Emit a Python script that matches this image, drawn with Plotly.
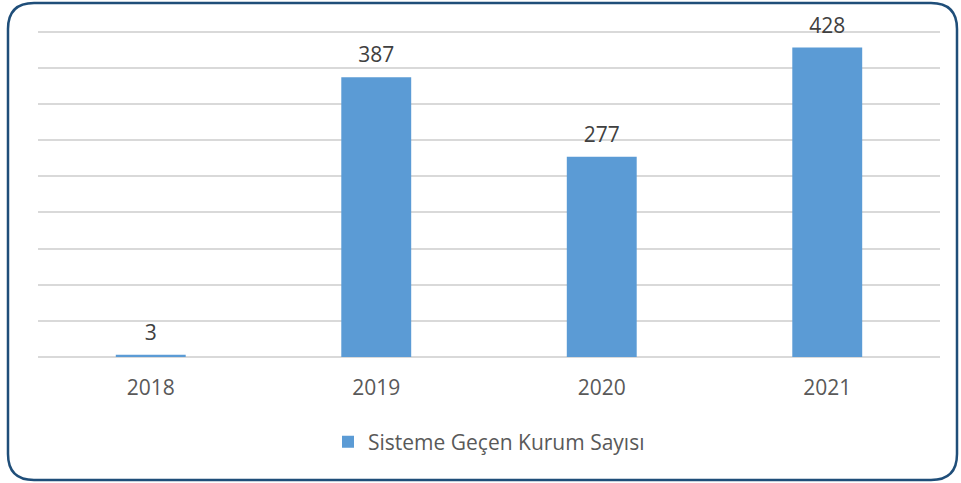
import plotly.graph_objects as go

years = ["2018", "2019", "2020", "2021"]
values = [3, 387, 277, 428]
series_name = "Sisteme Geçen Kurum Sayısı"
positions = list(range(len(years)))

W, H = 961, 483
L, R, T, B = 38, 21, 28, 126
pw, ph = W - L - R, H - T - B

def px(x):
    return (x - L) / pw

def py(y):
    return (H - B - y) / ph

fig = go.Figure()
fig.add_trace(go.Bar(
    x=positions, y=values, name=series_name,
    marker=dict(color="#5B9BD5", line=dict(width=0)),
    showlegend=True, hoverinfo="x+y",
))
# data labels
fig.add_trace(go.Scatter(
    x=positions, y=values, mode="markers+text",
    text=[str(v) for v in values], textposition="top center",
    marker=dict(size=14, opacity=0),
    textfont=dict(family="Open Sans", size=21, color="#404040"),
    cliponaxis=False, showlegend=False, hoverinfo="skip",
))

# rounded border
x0, x1, y0, y1, r = 8, 957, 3, 480, 26
rx, ry = r / pw, r / ph
X0, X1, Y0, Y1 = px(x0), px(x1), py(y0), py(y1)
path = (f"M {X0+rx:.5f},{Y0:.5f} L {X1-rx:.5f},{Y0:.5f} Q {X1:.5f},{Y0:.5f} {X1:.5f},{Y0-ry:.5f} "
        f"L {X1:.5f},{Y1+ry:.5f} Q {X1:.5f},{Y1:.5f} {X1-rx:.5f},{Y1:.5f} "
        f"L {X0+rx:.5f},{Y1:.5f} Q {X0:.5f},{Y1:.5f} {X0:.5f},{Y1+ry:.5f} "
        f"L {X0:.5f},{Y0-ry:.5f} Q {X0:.5f},{Y0:.5f} {X0+rx:.5f},{Y0:.5f} Z")
fig.add_shape(type="path", path=path, xref="paper", yref="paper",
              line=dict(color="#1F4E79", width=2.5), layer="above")

fig.update_layout(
    width=W, height=H,
    margin=dict(l=L, r=R, t=T, b=B),
    paper_bgcolor="white", plot_bgcolor="white",
    font=dict(family="Open Sans", size=21, color="#595959"),
    bargap=0.69,
    legend=dict(orientation="h", x=0.5, xanchor="center",
                y=round(py(442), 4), yanchor="middle",
                font=dict(family="Open Sans", size=21, color="#595959")),
    xaxis=dict(range=[-0.5, 3.5], tickvals=positions, ticktext=years,
               showgrid=False, showline=False, zeroline=False,
               ticks="outside", ticklen=12, tickcolor="rgba(0,0,0,0)",
               tickfont=dict(size=21, color="#595959")),
    yaxis=dict(range=[0, 455], dtick=50, showgrid=True, gridcolor="#D9D9D9",
               gridwidth=1.5, showticklabels=False, zeroline=True,
               zerolinecolor="#D9D9D9", zerolinewidth=1.5),
)

fig.write_html("out.html", config={"displayModeBar": False},
               post_script="document.body.style.margin='0';")
